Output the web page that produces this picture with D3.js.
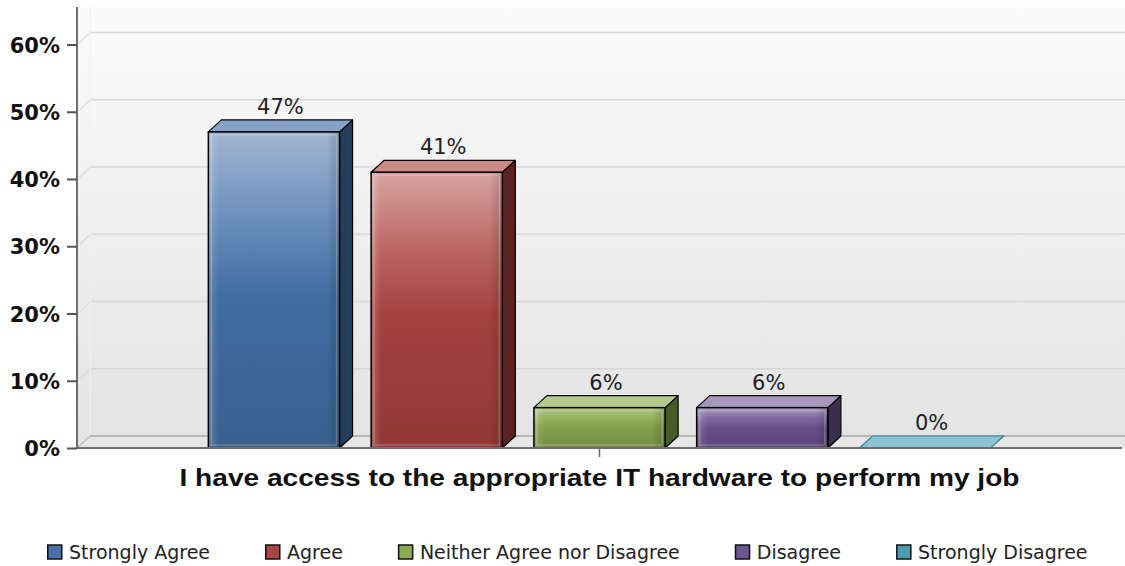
<!DOCTYPE html>
<html><head><meta charset="utf-8">
<script src="https://cdn.jsdelivr.net/npm/d3@7"></script>
<style>html,body{margin:0;padding:0;background:#fff;}svg{display:block;}</style>
</head><body>
<svg id="chart" width="1125" height="566"></svg>
<script>
const categories = ["I have access to the appropriate IT hardware to perform my job"];
const seriesNames = ["Strongly Agree", "Agree", "Neither Agree nor Disagree", "Disagree", "Strongly Disagree"];
const seriesValues = [47, 41, 6, 6, 0];
const yTickValues = [0, 10, 20, 30, 40, 50, 60];
const yTickLabels = ["0%", "10%", "20%", "30%", "40%", "50%", "60%"];
const legendColors = ["#4a72a8", "#a84642", "#8aab52", "#6e5590", "#4a9bb0"];
const frontTop = ["#a1b6d2", "#d8a4a2", "#adc587", "#a99bbd", "#8fc6d6"];
const frontMid = ["#6a8ebc", "#bb6662", "#93b05d", "#80689f", "#8fc6d6"];
const frontBot = ["#416da2", "#a4413d", "#819f4a", "#684f89", "#8fc6d6"];
const sideColors = ["#253e5e", "#5a2221", "#485c28", "#3b2f4f", "#3d7d8f"];
const topColors = ["#86a2c7", "#cc8986", "#b3c98e", "#a696bb", "#8cc4d4"];

(function () {
const svg = d3.select("#chart");
const W = 1125;
const pLeft = 77, pRight = 1122, pTop = 7, pBottom = 448;
const dx = 13, dy = 12;

const y = d3.scaleLinear().domain([0, 60]).range([pBottom, 44.5]);
const x0 = d3.scaleBand().domain(categories).range([pLeft, pRight]).paddingInner(0).paddingOuter(0.142);
const x1 = d3.scaleBand().domain(seriesNames).range([0, x0.bandwidth()]).paddingInner(0.194).paddingOuter(0.097);

const defs = svg.append("defs");
const bg = defs.append("linearGradient").attr("id", "bg").attr("x1", 0).attr("y1", 0).attr("x2", 0).attr("y2", 1);
bg.append("stop").attr("offset", "0%").attr("stop-color", "#fbfbfb");
bg.append("stop").attr("offset", "100%").attr("stop-color", "#e3e3e3");

seriesNames.forEach((s, i) => {
  const g = defs.append("linearGradient").attr("id", "fg" + i).attr("x1", 0).attr("y1", 0).attr("x2", 0).attr("y2", 1);
  g.append("stop").attr("offset", "0%").attr("stop-color", frontTop[i]);
  g.append("stop").attr("offset", "28%").attr("stop-color", frontMid[i]);
  g.append("stop").attr("offset", "52%").attr("stop-color", frontBot[i]);
  g.append("stop").attr("offset", "100%").attr("stop-color", d3.color(frontBot[i]).darker(0.35));
  const h = defs.append("linearGradient").attr("id", "hg" + i).attr("x1", 0).attr("y1", 0).attr("x2", 1).attr("y2", 0);
  h.append("stop").attr("offset", "0%").attr("stop-color", "#fff").attr("stop-opacity", 0.18);
  h.append("stop").attr("offset", "8%").attr("stop-color", "#fff").attr("stop-opacity", 0.0);
  h.append("stop").attr("offset", "90%").attr("stop-color", "#000").attr("stop-opacity", 0.0);
  h.append("stop").attr("offset", "100%").attr("stop-color", "#000").attr("stop-opacity", 0.18);
});

svg.append("rect").attr("x", pLeft).attr("y", pTop).attr("width", W - pLeft).attr("height", pBottom - pTop).attr("fill", "url(#bg)");

const grid = svg.append("g");
yTickValues.filter(v => v > 0).forEach(v => {
  grid.append("line").attr("x1", pLeft + dx).attr("x2", W).attr("y1", y(v) - dy).attr("y2", y(v) - dy)
    .attr("stroke", "#d6d6d6").attr("stroke-width", 1.6);
  grid.append("line").attr("x1", pLeft + 2).attr("x2", pLeft + dx).attr("y1", y(v) - 1).attr("y2", y(v) - dy)
    .attr("stroke", "#dcdcdc").attr("stroke-width", 1.2);
});
svg.append("line").attr("x1", pLeft + dx).attr("x2", pLeft + dx).attr("y1", pTop).attr("y2", pBottom - dy)
  .attr("stroke", "#f0f0f0").attr("stroke-width", 1);

svg.append("path")
  .attr("d", `M${pLeft},${pBottom} L${pLeft + dx},${pBottom - dy} L${W},${pBottom - dy} L${W},${pBottom} Z`)
  .attr("fill", "#e6e6e6");
svg.append("line").attr("x1", pLeft + dx).attr("x2", W).attr("y1", pBottom - dy).attr("y2", pBottom - dy)
  .attr("stroke", "#a8a8a8").attr("stroke-width", 1.5);
svg.append("line").attr("x1", pLeft).attr("x2", pLeft + dx).attr("y1", pBottom).attr("y2", pBottom - dy)
  .attr("stroke", "#bdbdbd").attr("stroke-width", 1.2);

const bars = svg.append("g");
seriesNames.forEach((s, i) => {
  const v = seriesValues[i];
  const bx = x0(categories[0]) + x1(s);
  const bw = x1.bandwidth();
  const yt = y(v), yb = y(0);
  const g = bars.append("g");
  if (v > 0) {
    g.append("path").attr("d", `M${bx + bw},${yt} L${bx + bw + dx},${yt - dy} L${bx + bw + dx},${yb - dy} L${bx + bw},${yb} Z`)
      .attr("fill", sideColors[i]).attr("stroke", "#000").attr("stroke-width", 1.2).attr("stroke-linejoin", "round");
    g.append("path").attr("d", `M${bx},${yt} L${bx + dx},${yt - dy} L${bx + bw + dx},${yt - dy} L${bx + bw},${yt} Z`)
      .attr("fill", topColors[i]).attr("stroke", "#000").attr("stroke-width", 1.2).attr("stroke-linejoin", "round");
    g.append("rect").attr("x", bx).attr("y", yt).attr("width", bw).attr("height", yb - yt)
      .attr("fill", `url(#fg${i})`);
    g.append("rect").attr("x", bx).attr("y", yt).attr("width", bw).attr("height", yb - yt)
      .attr("fill", `url(#hg${i})`);
    g.append("rect").attr("x", bx + 3).attr("y", yt + 3).attr("width", bw - 6).attr("height", Math.max(0, yb - yt - 6))
      .attr("fill", "none").attr("stroke", "#fff").attr("stroke-opacity", 0.22).attr("stroke-width", 1.5);
    g.append("rect").attr("x", bx).attr("y", yt).attr("width", bw).attr("height", yb - yt)
      .attr("fill", "none").attr("stroke", "#000").attr("stroke-width", 1.5);
  } else {
    g.append("path").attr("d", `M${bx},${yb} L${bx + dx},${yb - dy} L${bx + bw + dx},${yb - dy} L${bx + bw},${yb} Z`)
      .attr("fill", topColors[i]).attr("stroke", "#3d7d8f").attr("stroke-width", 1.2);
  }
  svg.append("text").attr("x", bx + bw / 2 + dx / 2).attr("y", yt - dy - 6)
    .attr("text-anchor", "middle").attr("font-family", "DejaVu Sans").attr("font-size", 21)
    .attr("fill", "#222").text(v + "%");
});

svg.append("line").attr("x1", pLeft).attr("x2", pLeft).attr("y1", pTop).attr("y2", pBottom)
  .attr("stroke", "#6e6e6e").attr("stroke-width", 2);
svg.append("line").attr("x1", pLeft).attr("x2", pRight).attr("y1", pBottom).attr("y2", pBottom)
  .attr("stroke", "#6e6e6e").attr("stroke-width", 2);

const yAxis = d3.axisLeft(y).tickValues(yTickValues).tickSize(10).tickPadding(7)
  .tickFormat((d, i) => yTickLabels[i]);
const ya = svg.append("g").attr("transform", `translate(${pLeft},0)`).call(yAxis);
ya.select(".domain").remove();
ya.selectAll(".tick line").attr("stroke", "#555").attr("stroke-width", 2);
ya.selectAll(".tick text").attr("font-family", "DejaVu Sans").attr("font-weight", "bold")
  .attr("font-size", 21).attr("fill", "#111").attr("dy", "0.36em");

const xAxis = d3.axisBottom(x0).tickSize(9).tickFormat("");
const xa = svg.append("g").attr("transform", `translate(0,${pBottom})`).call(xAxis);
xa.select(".domain").remove();
xa.selectAll(".tick line").attr("stroke", "#666").attr("stroke-width", 1.5);
svg.append("text").attr("x", x0(categories[0]) + x0.bandwidth() / 2).attr("y", 486)
  .attr("text-anchor", "middle").attr("font-family", "Liberation Sans, Arial, sans-serif")
  .attr("font-weight", "bold").attr("font-size", 24).attr("fill", "#111")
  .attr("textLength", 840).attr("lengthAdjust", "spacingAndGlyphs")
  .text(categories[0]);

const legend = svg.append("g");
let lx = 47;
const ly = 552;
seriesNames.forEach((s, i) => {
  const item = legend.append("g").attr("transform", `translate(${lx},0)`);
  item.append("rect").attr("x", 0.75).attr("y", ly - 7).attr("width", 14).attr("height", 14)
    .attr("fill", legendColors[i]).attr("stroke", "#111").attr("stroke-width", 1.5);
  const t = item.append("text").attr("x", 22).attr("y", ly + 7).attr("font-family", "DejaVu Sans")
    .attr("font-size", 19).attr("fill", "#222").text(s);
  const w = t.node().getComputedTextLength();
  lx += 22 + w + 55;
});
})();
</script>
</body></html>
